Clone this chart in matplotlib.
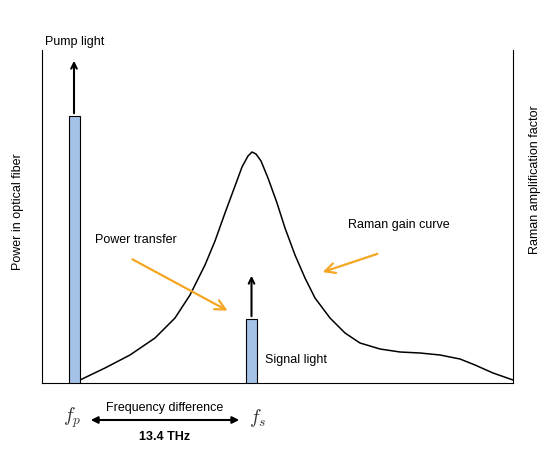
import numpy as np
import matplotlib
matplotlib.use('Agg')
import matplotlib.pyplot as plt

plt.rcParams['font.family'] = ['Liberation Sans', 'DejaVu Sans']
plt.rcParams['mathtext.fontset'] = 'cm'

# coordinates in a local frame: x from left spine, y up from bottom spine
curve_x = [38, 63, 88, 113, 133, 148, 163, 173, 183, 193, 200, 206, 210, 214, 219, 226,
           235, 243, 253, 263, 273, 288, 303, 318, 338, 358, 378, 398, 418, 433, 451, 471]
curve_y = [3, 15, 28, 45, 65, 88, 118, 142, 170, 197, 216, 227, 231, 229, 222, 205,
           180, 155, 128, 105, 85, 65, 50, 40, 34, 31, 30, 28, 24, 18, 10, 3]
pump_x, pump_h, pump_arrow = 32, 267, 325
sig_x, sig_h, sig_arrow = 209.5, 64, 110
bar_w = 11

fig = plt.figure(figsize=(5.55, 4.58), dpi=100)
ax = fig.add_axes([42/555, 75/458, 471/555, 333/458])
ax.set_xlim(0, 471)
ax.set_ylim(0, 333)
ax.spines['top'].set_visible(False)
ax.set_xticks([])
ax.set_yticks([])

ax.plot(curve_x, curve_y, color='black', lw=1.1, zorder=2)

for x, h, top in [(pump_x, pump_h, pump_arrow), (sig_x, sig_h, sig_arrow)]:
    ax.bar(x, h, width=bar_w, color='#a4c2e8', edgecolor='black', lw=0.8, zorder=3)
    ax.annotate('', xy=(x, top), xytext=(x, h),
                arrowprops=dict(arrowstyle='->', lw=1.5, color='black'),
                annotation_clip=False)

orange = '#f5a623'
ax.annotate('', xy=(188, 71), xytext=(88, 125),
            arrowprops=dict(arrowstyle='->', lw=1.6, color=orange, mutation_scale=18))
ax.annotate('', xy=(278, 110), xytext=(338, 130),
            arrowprops=dict(arrowstyle='->', lw=1.6, color=orange, mutation_scale=18))

fs = 9
ax.text(53, 143, 'Power transfer', fontsize=fs, ha='left', va='center')
ax.text(306, 158, 'Raman gain curve', fontsize=fs, ha='left', va='center')
ax.text(223, 23, 'Signal light', fontsize=fs, ha='left', va='center')
ax.text(3, 341, 'Pump light', fontsize=fs, ha='left', va='center', clip_on=False)

fig.text(18/555, 1 - 212/458, 'Power in optical fiber', rotation=90, fontsize=fs,
         ha='center', va='center')
fig.text(535/555, 1 - 180/458, 'Raman amplification factor', rotation=90, fontsize=fs,
         ha='center', va='center')

# frequency difference arrow below axes
fig.text(72/555, 1 - 418/458, r'$f_p$', fontsize=14, ha='center', va='center', color='#333333')
fig.text(258/555, 1 - 418/458, r'$f_s$', fontsize=14, ha='center', va='center', color='#333333')
ax.annotate('', xy=(200, -37), xytext=(46, -37), xycoords='data',
            arrowprops=dict(arrowstyle='<|-|>', lw=1.5, color='black', mutation_scale=10),
            annotation_clip=False)
fig.text(165/555, 1 - 408/458, 'Frequency difference', fontsize=fs, ha='center', va='center')
fig.text(165/555, 1 - 437/458, '13.4 THz', fontsize=fs, ha='center', va='center', weight='bold')

fig.savefig('out.png', dpi=100)
